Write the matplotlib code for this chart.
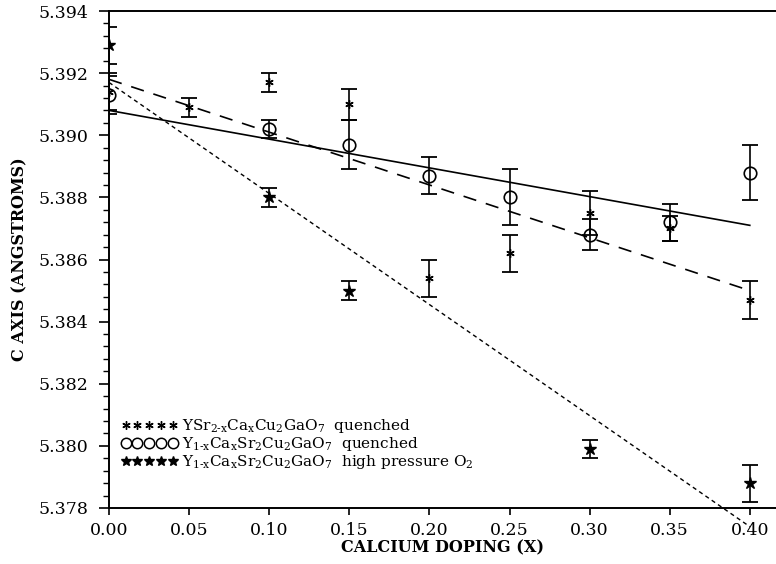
import matplotlib
matplotlib.use("Agg")
import matplotlib.pyplot as plt
from matplotlib.lines import Line2D
from matplotlib.ticker import MultipleLocator, FormatStrFormatter

# YSr(2-x)Ca(x)Cu2GaO7 quenched
x_ysr = [0.00, 0.05, 0.10, 0.15, 0.20, 0.25, 0.30, 0.35, 0.40]
c_ysr = [5.3914, 5.3909, 5.3917, 5.3910, 5.3854, 5.3862, 5.3875, 5.3870, 5.3847]
err_ysr = [0.0006, 0.0003, 0.0003, 0.0005, 0.0006, 0.0006, 0.0007, 0.0004, 0.0006]

# Y(1-x)Ca(x)Sr2Cu2GaO7 quenched
x_yca = [0.00, 0.10, 0.15, 0.20, 0.25, 0.30, 0.35, 0.40]
c_yca = [5.3913, 5.3902, 5.3897, 5.3887, 5.3880, 5.3868, 5.3872, 5.3888]
err_yca = [0.0006, 0.0003, 0.0008, 0.0006, 0.0009, 0.0005, 0.0006, 0.0009]

# Y(1-x)Ca(x)Sr2Cu2GaO7 high pressure O2
x_hp = [0.00, 0.10, 0.15, 0.30, 0.40]
c_hp = [5.3929, 5.3880, 5.3850, 5.3799, 5.3788]
err_hp = [0.0006, 0.0003, 0.0003, 0.0003, 0.0006]

# linear fits, end points
fit_x = [0.0, 0.40]
fit_ysr = [5.3918, 5.3850]
fit_yca = [5.3908, 5.3871]
fit_hp = [5.3917, 5.3774]

labels = [
    "YSr$\\mathregular{_{2\u2010x}}$Ca$\\mathregular{_x}$Cu$\\mathregular{_2}$GaO$\\mathregular{_7}$  quenched",
    "Y$\\mathregular{_{1\u2010x}}$Ca$\\mathregular{_x}$Sr$\\mathregular{_2}$Cu$\\mathregular{_2}$GaO$\\mathregular{_7}$  quenched",
    "Y$\\mathregular{_{1\u2010x}}$Ca$\\mathregular{_x}$Sr$\\mathregular{_2}$Cu$\\mathregular{_2}$GaO$\\mathregular{_7}$  high pressure O$\\mathregular{_2}$",
]

ASTER = (6, 2, 0)

plt.rcParams["font.family"] = ["DejaVu Serif"]
plt.rcParams["mathtext.fontset"] = "dejavuserif"


def draw_series(ax, x, y, err, marker, ms, mfc, mew):
    ax.errorbar(x, y, yerr=err, fmt="none", ecolor="black",
                elinewidth=1.2, capsize=6, capthick=1.3, zorder=3)
    ax.plot(x, y, linestyle="none", marker=marker, ms=ms, mfc=mfc,
            mec="black", mew=mew, zorder=4)


def main():
    fig = plt.figure(figsize=(7.76, 5.64), dpi=100)
    W, H = 776, 564
    left, right, top, bottom = 109, 776, 11, 508
    ax = fig.add_axes([left / W, 1 - bottom / H, (right - left) / W, (bottom - top) / H])

    ax.set_xlim(0, (right - left) / 1602)
    ax.set_ylim(5.378, 5.394)

    ax.plot(fit_x, fit_yca, color="black", lw=1.2, zorder=2)
    ax.plot(fit_x, fit_ysr, color="black", lw=1.2, linestyle=(0, (8, 6)), zorder=2)
    ax.plot(fit_x, fit_hp, color="black", lw=1.0, linestyle=(0, (3, 2.5)),
            zorder=2, clip_on=False)

    draw_series(ax, x_ysr, c_ysr, err_ysr, ASTER, 6, "black", 1.0)
    draw_series(ax, x_yca, c_yca, err_yca, "o", 9, "none", 1.2)
    draw_series(ax, x_hp, c_hp, err_hp, "*", 9, "black", 1.0)

    ax.xaxis.set_major_locator(MultipleLocator(0.05))
    ax.xaxis.set_major_formatter(FormatStrFormatter("%.2f"))
    ax.yaxis.set_major_locator(MultipleLocator(0.002))
    ax.yaxis.set_minor_locator(MultipleLocator(0.0004))
    ax.yaxis.set_major_formatter(FormatStrFormatter("%.3f"))
    ax.tick_params(axis="both", which="major", direction="out", width=1.2, labelsize=12.5)
    ax.tick_params(axis="y", which="major", length=7, pad=8)
    ax.tick_params(axis="y", which="minor", direction="out", length=4.5, width=1.0)
    ax.tick_params(axis="x", which="major", length=5, pad=5)

    ax.spines["right"].set_visible(False)
    for side in ("left", "bottom", "top"):
        ax.spines[side].set_linewidth(1.4)

    ax.set_xlabel("CALCIUM DOPING (X)", fontsize=11.5, fontweight="bold", labelpad=0)
    ax.set_ylabel("C AXIS (ANGSTROMS)", fontsize=11.5, fontweight="bold", labelpad=7)

    handles = [
        Line2D([], [], linestyle="none", marker=ASTER, ms=6, mec="black", mew=1.0),
        Line2D([], [], linestyle="none", marker="o", ms=7.5, mfc="none", mec="black", mew=1.1),
        Line2D([], [], linestyle="none", marker="*", ms=7.5, mfc="black", mec="black"),
    ]
    ax.legend(handles, labels, loc="upper left", frameon=False, numpoints=5,
              fontsize=11, handlelength=3.7, handletextpad=0.3, labelspacing=0.0,
              borderpad=0, borderaxespad=0,
              bbox_to_anchor=((121 - left) / (right - left), (bottom - 417) / (bottom - top)))

    fig.savefig("out.png", dpi=100)


if __name__ == "__main__":
    main()
